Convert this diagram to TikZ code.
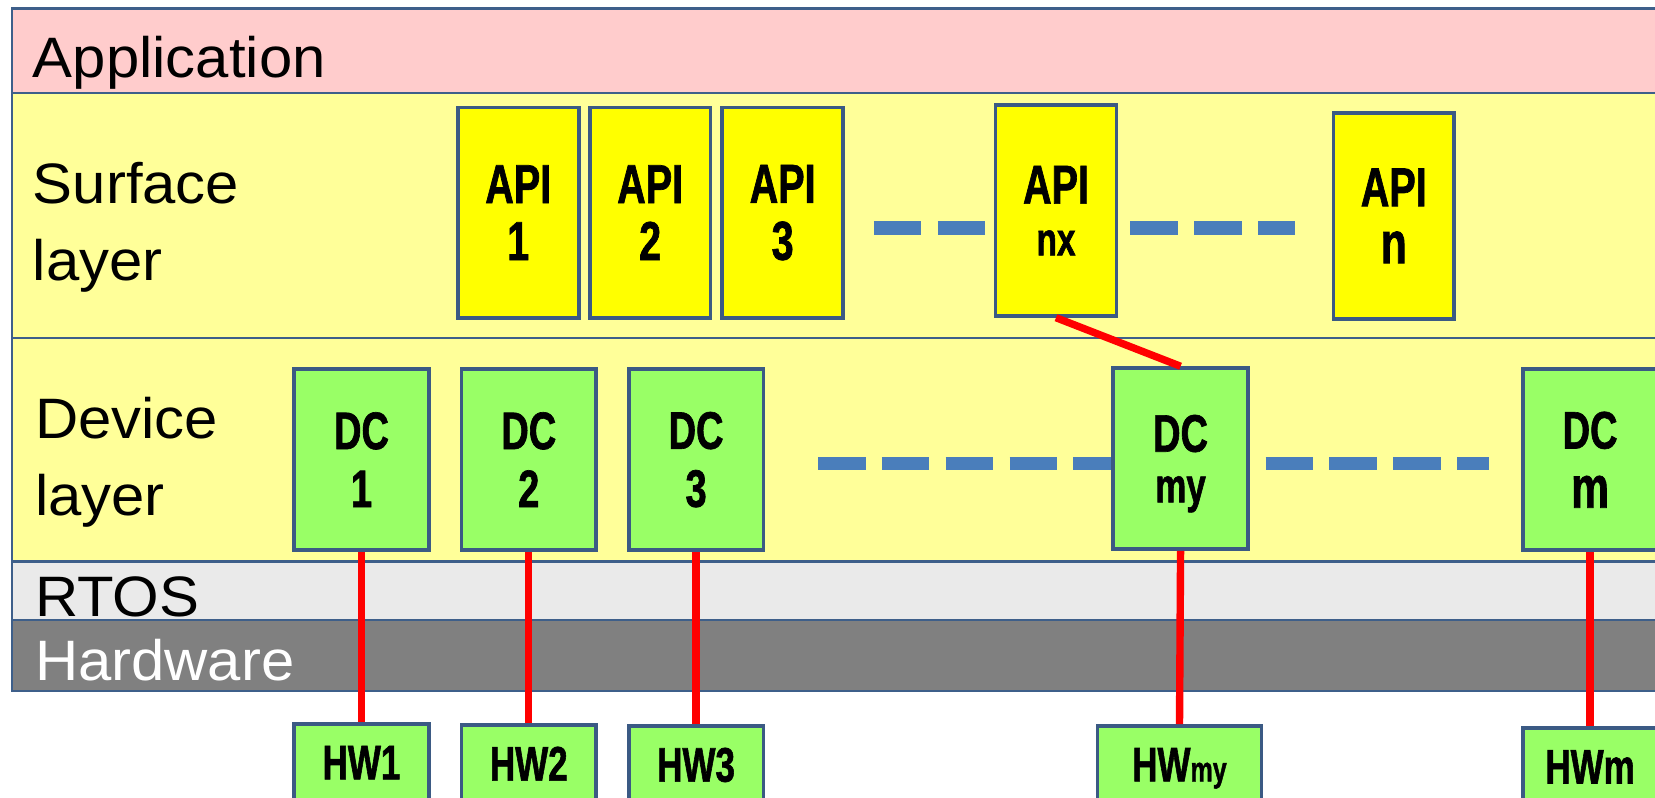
\documentclass[tikz,border=0pt]{standalone}
\usepackage{fontspec}
\setmainfont{Liberation Sans}[FakeStretch=1.05]
\newfontfamily\boxfont[FakeStretch=0.72,FakeBold=1.2]{Liberation Sans}
\definecolor{frameblue}{HTML}{3E5F8A}
\definecolor{boxblue}{HTML}{3B5A84}
\definecolor{dashblue}{HTML}{4A7EBB}
\definecolor{appink}{HTML}{FFCCCC}
\definecolor{bandyellow}{HTML}{FFFF99}
\definecolor{apiyellow}{HTML}{FFFF00}
\definecolor{dcgreen}{HTML}{99FF66}
\definecolor{rtosgray}{HTML}{EAEAEA}
\definecolor{hwgray}{HTML}{808080}
\begin{document}
\begin{tikzpicture}[x=1pt,y=-1pt,
  frameline/.style={draw=frameblue,line width=2pt},
  layerlbl/.style={anchor=base west,inner sep=0pt,font=\fontsize{54}{54}\selectfont},
  boxbase/.style={draw=boxblue,line width=3.5pt,inner sep=0pt,align=center},
  apibox/.style={boxbase,fill=apiyellow,minimum width=114.5pt,minimum height=199.5pt,
    font=\boxfont\bfseries\fontsize{52}{54}\selectfont},
  dcbox/.style={boxbase,fill=dcgreen,minimum width=127.5pt,minimum height=171.5pt,
    font=\boxfont\bfseries\fontsize{50}{55}\selectfont},
  hwbox/.style={boxbase,fill=dcgreen,minimum width=127.5pt,minimum height=73.5pt,
    text depth=0pt,font=\boxfont\bfseries\fontsize{46}{46}\selectfont},
  redline/.style={draw=red,line width=7pt},
  dashline/.style={draw=dashblue,line width=13pt,dash pattern=on 45pt off 15.5pt}
]
\useasboundingbox (0,0) rectangle (1568,756);
\clip (0,0) rectangle (1568,756);
\fill[white] (0,0) rectangle (1568,756);
% bands
\fill[appink] (11,8) rectangle (1600,88);
\fill[bandyellow] (11,88) rectangle (1600,532);
\fill[rtosgray] (11,532) rectangle (1600,587);
\fill[hwgray] (11,587) rectangle (1600,655);
\draw[frameline] (1600,8) -- (11,8) -- (11,655) -- (1600,655);
\foreach \yy in {88,320,532,587} \draw[frameline] (11,\yy) -- (1600,\yy);
% layer labels
\node[layerlbl] (lapp) at (31,73) {Application};
\node[layerlbl] (lsurf) at (31,193) {Surface};
\node[layerlbl] (lsurf2) at (31,266) {layer};
\node[layerlbl] (ldev) at (33,415) {Device};
\node[layerlbl] (ldev2) at (33,488) {layer};
\node[layerlbl] (lrtos) at (33,584) {RTOS};
\node[layerlbl,text=white] (lhw) at (33,645) {Hardware};
% API boxes
\node[apibox] (api1) at (491,201.5) {API\\1};
\node[apibox] (api2) at (616,201.5) {API\\2};
\node[apibox] (api3) at (741.5,201.5) {API\\3};
\node[apibox,font=\boxfont\bfseries\fontsize{52}{49}\selectfont] (apinx) at (1000.5,199.5) {API\\{\fontsize{44}{49}\selectfont nx}};
\node[apibox,minimum height=195.5pt,font=\boxfont\bfseries\fontsize{52}{54}\selectfont] (apin) at (1320.5,204.5) {API\\{\fontsize{56}{54}\selectfont n}};
% DC boxes
\node[dcbox] (dc1) at (342.5,435.5) {DC\\1};
\node[dcbox] (dc2) at (501,435.5) {DC\\2};
\node[dcbox] (dc3) at (659.5,435.5) {DC\\3};
\node[dcbox,text depth=0pt,font=\boxfont\bfseries\fontsize{50}{48}\selectfont] (dcmy) at (1118.5,434.5) {DC\\{\fontsize{46}{48}\selectfont my}};
\node[dcbox,font=\boxfont\bfseries\fontsize{50}{56}\selectfont] (dcm) at (1506.5,435.5) {DC\\{\fontsize{56}{56}\selectfont m}};
% HW boxes
\node[hwbox] (hw1) at (342.5,722.5) {HW1};
\node[hwbox] (hw2) at (501,723.5) {HW2};
\node[hwbox] (hw3) at (659.5,724.5) {HW3};
\node[hwbox,minimum width=155.5pt] (hwmy) at (1117.5,724.5) {HW{\fontsize{33}{33}\selectfont my}};
\node[hwbox] (hwm) at (1506.5,726.5) {HWm};
% dashed ellipses
\coordinate (sa) at (828,216);
\coordinate (sb) at (1071,216);
\coordinate (sbe) at (1227,216);
\coordinate (da) at (775,439);
\coordinate (db) at (1199,439);
\coordinate (dbe) at (1411,439);
\draw[dashline] (sa) -- (sa -| apinx.west);
\draw[dashline] (sb) -- (sbe);
\draw[dashline] (da) -- (da -| dcmy.west);
\draw[dashline] (db) -- (dbe);
% red connectors
\draw[redline] (dc1.south) -- (hw1.north);
\draw[redline] (dc2.south) -- (hw2.north);
\draw[redline] (dc3.south) -- (hw3.north);
\draw[redline] (dcmy.south) -- (hwmy.north);
\draw[redline] (dcm.south) -- (hwm.north);
\draw[redline] (apinx.south) -- (dcmy.north);
\end{tikzpicture}
\end{document}
